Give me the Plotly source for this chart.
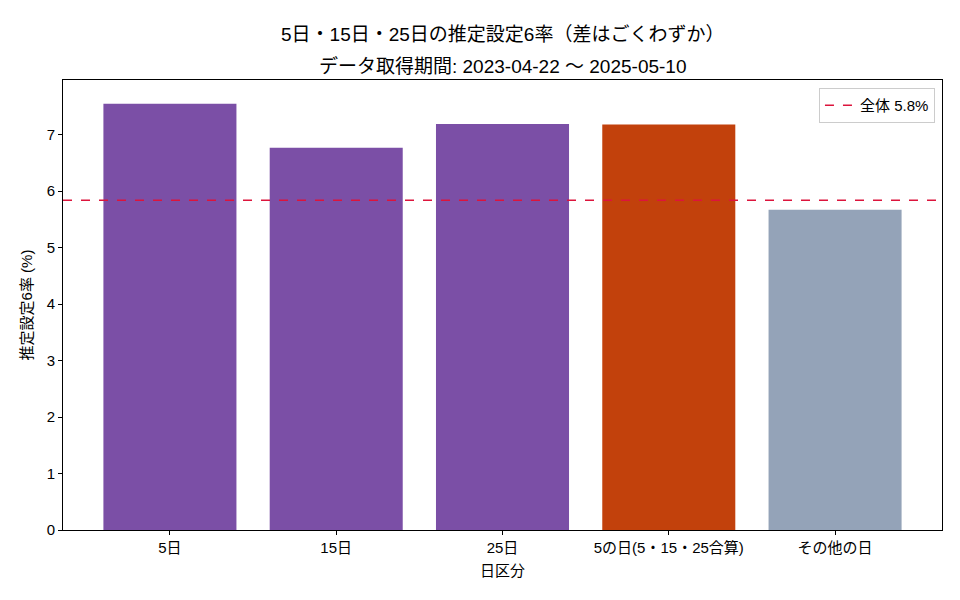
import plotly.graph_objects as go

categories = ["5日", "15日", "25日", "5の日(5・15・25合算)", "その他の日"]
rates = [7.55, 6.77, 7.19, 7.18, 5.67]
bar_colors = ["#7b4fa6", "#7b4fa6", "#7b4fa6", "#c2410c", "#94a3b8"]
overall_rate = 5.84
overall_label = "全体 5.8%"
title_lines = ["5日・15日・25日の推定設定6率（差はごくわずか）", "データ取得期間: 2023-04-22 〜 2025-05-10"]
y_ticks = [0, 1, 2, 3, 4, 5, 6, 7]

FONT = "Liberation Sans, Noto Sans CJK JP"
xs = list(range(len(categories)))

fig = go.Figure()
fig.add_trace(go.Bar(x=xs, y=rates, marker=dict(color=bar_colors, line=dict(width=0)),
                     width=0.8, showlegend=False, hoverinfo="skip"))
fig.add_trace(go.Scatter(x=[-0.643, 4.643], y=[overall_rate, overall_rate], mode="lines",
                         line=dict(color="#dc143c", width=1.5, dash="dash"),
                         name=overall_label, showlegend=True))

for i, (txt, yp) in enumerate(zip(title_lines, [1.1022, 1.0311])):
    fig.add_annotation(text=txt, xref="paper", yref="paper", x=0.5, y=yp,
                       xanchor="center", yanchor="middle", showarrow=False,
                       font=dict(family=FONT, size=19, color="black"))

fig.update_layout(
    width=960, height=600,
    margin=dict(l=55, r=26, t=72, b=78),
    paper_bgcolor="white", plot_bgcolor="white",
    font=dict(family=FONT, size=15, color="black"),
    xaxis=dict(range=[-0.643, 4.643], tickmode="array", tickvals=xs, ticktext=categories,
               showgrid=False, zeroline=False, showline=True, linecolor="black", linewidth=1,
               mirror=True, ticks="outside", ticklen=4, tickcolor="black",
               title=dict(text="日区分", font=dict(size=15), standoff=10)),
    yaxis=dict(range=[0, 7.97], tickmode="array", tickvals=y_ticks,
               showgrid=False, zeroline=False, showline=True, linecolor="black", linewidth=1,
               mirror=True, ticks="outside", ticklen=4, tickcolor="black",
               title=dict(text="推定設定6率 (%)", font=dict(size=15), standoff=10)),
    legend=dict(x=0.992, y=0.982, xanchor="right", yanchor="top",
                bgcolor="rgba(255,255,255,0.8)", bordercolor="#cccccc", borderwidth=1,
                font=dict(size=15)),
    bargap=0.2,
)

fig.write_html("out.html")
